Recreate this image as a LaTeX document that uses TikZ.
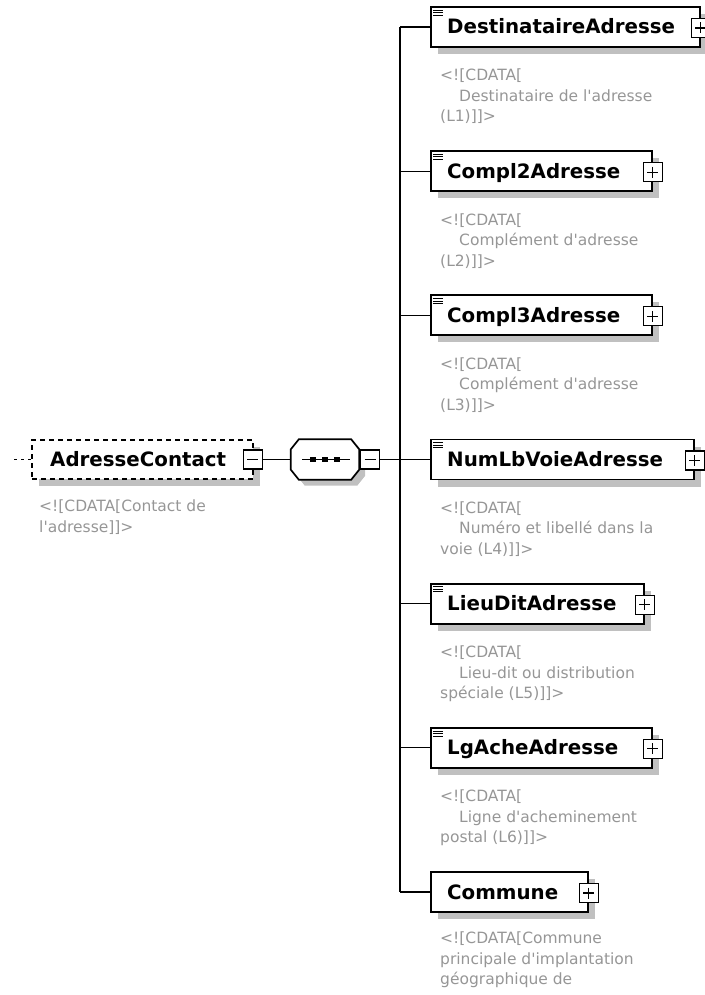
\documentclass[tikz,border=0pt]{standalone}
\usepackage{fontspec}
\setmainfont{DejaVu Sans}[Ligatures=TeXOff]
\usetikzlibrary{shadows}
\definecolor{shgray}{RGB}{192,192,192}
\definecolor{docgray}{RGB}{150,150,150}
\newcommand\eqicon[1]{%
  \foreach \dy in {4,6.5,9}{\draw[line width=0.9pt] ([shift={(3,\dy)}]#1.north west) -- ++(10,0);}}
\newcommand\octapath[2]{% node, shift
  ([shift={(#2+8,#2)}]#1.north west) -- ([shift={(#2-8,#2)}]#1.north east) --
  ([shift={(#2,#2+10)}]#1.north east) -- ([shift={(#2,#2-10)}]#1.south east) --
  ([shift={(#2-8,#2)}]#1.south east) -- ([shift={(#2+8,#2)}]#1.south west) --
  ([shift={(#2,#2-10)}]#1.south west) -- ([shift={(#2,#2+10)}]#1.north west) -- cycle}
\tikzset{
  conn/.style={draw=black, line width=1.3pt},
  elem/.style={draw=black, line width=1.7pt, fill=white, rectangle, minimum height=40pt,
    inner sep=0pt, anchor=west,
    drop shadow={shadow xshift=7pt, shadow yshift=-7pt, fill=shgray, opacity=1}},
  nametext/.style={font=\fontsize{19.8}{24}\selectfont\bfseries, inner sep=0pt, anchor=base west, text=black},
  doc/.style={font=\fontsize{15.5}{20.5}\selectfont, inner sep=0pt, anchor=north west, align=left, text=docgray},
  minusbox/.style={draw=black, fill=white, line width=1.2pt, minimum size=19pt, inner sep=0pt,
    path picture={\draw[line width=1.2pt] ([xshift=4pt]path picture bounding box.west) -- ([xshift=-4pt]path picture bounding box.east);}},
  plusbox/.style={minusbox,
    path picture={\draw[line width=1.2pt] ([xshift=4pt]path picture bounding box.west) -- ([xshift=-4pt]path picture bounding box.east);
      \draw[line width=1.2pt] ([yshift=-4pt]path picture bounding box.north) -- ([yshift=4pt]path picture bounding box.south);}},
  seqbox/.style={rectangle, minimum width=68pt, minimum height=40pt, inner sep=0pt}
}
\begin{document}
\begin{tikzpicture}[x=1pt,y=-1pt]
\useasboundingbox (0,0) rectangle (704,995);

% ---------- root element
\node[elem, dash pattern=on 5pt off 4pt, minimum width=221pt, minimum height=39pt] (ac) at (31,459.5) {};
\node[nametext] (actext) at ([xshift=19pt,yshift=-7pt]ac.west) {AdresseContact};
\node[minusbox] (acminus) at ([xshift=-1pt]ac.east) {};
\coordinate (acin) at (14,459.5);
\draw[line width=1.3pt, dash pattern=on 3pt off 4pt] (acin) -- (ac.west);
\node[doc] (acdoc) at (39,500) {<![CDATA[Contact de\\l'adresse]]>};

% ---------- sequence compositor
\node[seqbox] (seq) at (325,459.5) {};
\fill[shgray] \octapath{seq}{6};
\draw[line width=1.7pt, fill=white] \octapath{seq}{0};
\node[minusbox] (seqminus) at (370,459.5) {};
\draw[conn] (acminus.east) -- (seq.west);
\draw[conn] ([xshift=-23pt]seq.center) -- ([xshift=25pt]seq.center);
\foreach \dx in {-12,0,12}{\fill[black] ([shift={(\dx-3,-2.5)}]seq.center) rectangle ++(6,5);}
\coordinate (tr) at (400,459.5);

% ---------- children
\node[elem, minimum width=269pt] (dest) at (430,27) {};
\node[elem, minimum width=221pt] (compl2) at (430,171.2) {};
\node[elem, minimum width=221pt] (compl3) at (430,315.3) {};
\node[elem, minimum width=263pt] (numlb) at (430,459.5) {};
\node[elem, minimum width=213pt] (lieudit) at (430,603.7) {};
\node[elem, minimum width=221pt] (lgache) at (430,747.8) {};
\node[elem, minimum width=157pt] (commune) at (430,892) {};

\foreach \n in {dest,compl2,compl3,numlb,lieudit,lgache}{\eqicon{\n}}

\node[nametext] (desttext) at ([xshift=17pt,yshift=-7pt]dest.west) {DestinataireAdresse};
\node[nametext] (compl2text) at ([xshift=17pt,yshift=-7pt]compl2.west) {Compl2Adresse};
\node[nametext] (compl3text) at ([xshift=17pt,yshift=-7pt]compl3.west) {Compl3Adresse};
\node[nametext] (numlbtext) at ([xshift=17pt,yshift=-7pt]numlb.west) {NumLbVoieAdresse};
\node[nametext] (lieudittext) at ([xshift=17pt,yshift=-7pt]lieudit.west) {LieuDitAdresse};
\node[nametext] (lgachetext) at ([xshift=17pt,yshift=-7pt]lgache.west) {LgAcheAdresse};
\node[nametext] (communetext) at ([xshift=17pt,yshift=-7pt]commune.west) {Commune};

\foreach \n in {dest,compl2,compl3,numlb,lieudit,lgache,commune}{
  \node[plusbox] (\n plus) at ([yshift=-1pt]\n.east) {};
}

% connectors
\draw[conn] (seqminus.east) -- (numlb.west);
\draw[conn] (tr |- dest.west) -- (tr |- commune.west);
\foreach \n in {dest,compl2,compl3,lieudit,lgache,commune}{
  \draw[conn] (tr |- \n.west) -- (\n.west);
}

% documentation
\node[doc] (destdoc) at (440,27+42) {<![CDATA[\\\hspace*{19pt}Destinataire de l'adresse\\(L1)]]>};
\node[doc] (compl2doc) at (440,171.2+42) {<![CDATA[\\\hspace*{19pt}Complément d'adresse\\(L2)]]>};
\node[doc] (compl3doc) at (440,315.3+42) {<![CDATA[\\\hspace*{19pt}Complément d'adresse\\(L3)]]>};
\node[doc] (numlbdoc) at (440,459.5+42) {<![CDATA[\\\hspace*{19pt}Numéro et libellé dans la\\voie (L4)]]>};
\node[doc] (lieuditdoc) at (440,603.7+42) {<![CDATA[\\\hspace*{19pt}Lieu-dit ou distribution\\spéciale (L5)]]>};
\node[doc] (lgachedoc) at (440,747.8+42) {<![CDATA[\\\hspace*{19pt}Ligne d'acheminement\\postal (L6)]]>};
\node[doc] (communedoc) at (440,892+40) {<![CDATA[Commune\\principale d'implantation\\géographique de};
\end{tikzpicture}
\end{document}
